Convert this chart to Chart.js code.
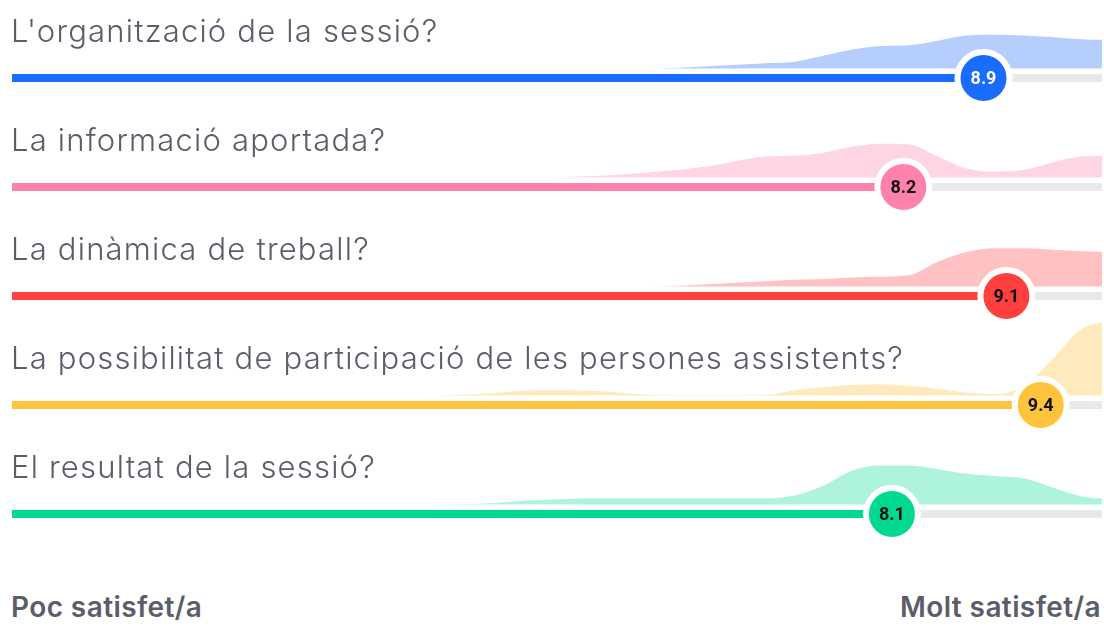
<!DOCTYPE html>
<html lang="ca">
<head>
    <meta charset="UTF-8">
    <title>Valoració de la sessió</title>
    <script src="https://cdn.jsdelivr.net/npm/chart.js"></script>
    <style>
        body {
            margin: 0;
            background: #ffffff;
            font-family: Inter, "Open Sans", sans-serif;
        }
        .board {
            position: relative;
            width: 1104px;
            height: 626px;
            overflow: hidden;
        }
        .question {
            position: absolute;
            left: 11px;
            font-size: 31px;
            line-height: 36px;
            font-weight: 300;
            letter-spacing: 1.2px;
            color: #5b5e69;
            white-space: nowrap;
            z-index: 2;
        }
        .row-chart {
            position: absolute;
            left: 0;
            width: 1104px;
            height: 130px;
        }
        .scale-label {
            position: absolute;
            top: 591px;
            font-size: 28px;
            line-height: 32px;
            font-weight: 600;
            letter-spacing: 0.4px;
            color: #5b5e69;
        }
    </style>
</head>
<body>
    <div class="board" id="board">
        <div class="scale-label" style="left:11px">Poc satisfet/a</div>
        <div class="scale-label" style="right:3px">Molt satisfet/a</div>
    </div>

    <script>
        const questions = [
            "L'organització de la sessió?",
            "La informació aportada?",
            "La dinàmica de treball?",
            "La possibilitat de participació de les persones assistents?",
            "El resultat de la sessió?"
        ];
        const scores = [8.9, 8.2, 9.1, 9.4, 8.1];
        const barColors = ["#1a6cff", "#ff82aa", "#ff403f", "#ffc43c", "#00d98f"];
        const areaColors = ["#b6cefc", "#ffd5e3", "#ffc1c1", "#ffeabd", "#aef4dc"];
        const labelColors = ["#ffffff", "#111111", "#111111", "#111111", "#111111"];

        // answer distribution
        const densityX = [4, 4.5, 5, 5.5, 6, 6.5, 7, 7.25, 7.5, 7.75, 8, 8.25, 8.5, 8.75, 9, 9.25, 9.5, 9.75, 10];
        const densityOrganitzacio = [0, 0, 0, 0, 0, 0.03, 0.07, 0.09, 0.17, 0.25, 0.3, 0.31, 0.37, 0.44, 0.45, 0.44, 0.42, 0.39, 0.38];
        const densityInformacio = [0, 0, 0, 0.02, 0.07, 0.15, 0.28, 0.29, 0.33, 0.41, 0.45, 0.44, 0.28, 0.12, 0.08, 0.1, 0.2, 0.28, 0.29];
        const densityDinamica = [0, 0, 0, 0, 0, 0.03, 0.07, 0.09, 0.1, 0.12, 0.13, 0.15, 0.33, 0.46, 0.51, 0.51, 0.49, 0.47, 0.46];
        const densityParticipacio = [0, 0.02, 0.07, 0.06, 0.01, 0.005, 0.01, 0.07, 0.11, 0.14, 0.15, 0.13, 0.09, 0.04, 0.02, 0.13, 0.48, 0.88, 1.0];
        const densityResultat = [0, 0.01, 0.06, 0.08, 0.08, 0.08, 0.08, 0.12, 0.25, 0.45, 0.52, 0.52, 0.47, 0.41, 0.38, 0.35, 0.23, 0.11, 0.07];
        const densities = [densityOrganitzacio, densityInformacio, densityDinamica, densityParticipacio, densityResultat];

        // layout
        const X_MIN = 0.415, X_MAX = 9.935;
        const TRACK_Y = -0.127;           // track sits just under the shaded area
        const Y_MIN = -0.527, Y_MAX = 1.207;
        const trackCenters = [78, 186.5, 295.5, 404.5, 513.5];

        const scoreLabel = {
            id: "scoreLabel",
            afterDatasetsDraw(chart) {
                const pt = chart.getDatasetMeta(0).data[0];
                const i = chart.options.plugins.scoreLabel.row;
                const ctx = chart.ctx;
                ctx.save();
                ctx.font = "bold 18px Roboto, Arial, sans-serif";
                ctx.fillStyle = labelColors[i];
                ctx.textAlign = "center";
                ctx.textBaseline = "middle";
                ctx.fillText(scores[i].toFixed(1), pt.x, pt.y + 1);
                ctx.restore();
            }
        };

        const board = document.getElementById("board");

        questions.forEach((q, i) => {
            let title = document.createElement("div");
            title.className = "question";
            title.style.top = (trackCenters[i] - 65) + "px";
            title.textContent = q;
            board.appendChild(title);

            let canvas = document.createElement("canvas");
            canvas.className = "row-chart";
            canvas.width = 1104;
            canvas.height = 130;
            canvas.style.top = (trackCenters[i] - 100) + "px";
            board.appendChild(canvas);

            new Chart(canvas.getContext("2d"), {
                type: "line",
                data: {
                    datasets: [
                        {
                            // score marker
                            data: [{ x: scores[i], y: TRACK_Y }],
                            showLine: false,
                            pointRadius: 26,
                            pointBackgroundColor: barColors[i],
                            pointBorderColor: "#ffffff",
                            pointBorderWidth: 6,
                            clip: false,
                            order: 0
                        },
                        {
                            data: [{ x: X_MIN, y: TRACK_Y }, { x: scores[i], y: TRACK_Y }],
                            borderColor: barColors[i],
                            borderWidth: 8,
                            pointRadius: 0,
                            clip: false,
                            order: 1
                        },
                        {
                            data: [{ x: X_MIN, y: TRACK_Y }, { x: X_MAX, y: TRACK_Y }],
                            borderColor: "#e8e9eb",
                            borderWidth: 8,
                            pointRadius: 0,
                            clip: false,
                            order: 2
                        },
                        {
                            data: densityX.map((x, k) => ({ x: x, y: densities[i][k] })),
                            borderColor: "rgba(0,0,0,0)",
                            borderWidth: 0,
                            backgroundColor: areaColors[i],
                            fill: "origin",
                            cubicInterpolationMode: "monotone",
                            pointRadius: 0,
                            order: 3
                        }
                    ]
                },
                options: {
                    responsive: false,
                    animation: false,
                    events: [],
                    layout: { autoPadding: false, padding: { left: 12, right: 2, top: 0, bottom: 0 } },
                    scales: {
                        x: { type: "linear", min: X_MIN, max: X_MAX, display: false },
                        y: { type: "linear", min: Y_MIN, max: Y_MAX, display: false }
                    },
                    plugins: {
                        legend: { display: false },
                        tooltip: { enabled: false },
                        scoreLabel: { row: i }
                    }
                },
                plugins: [scoreLabel]
            });
        });
    </script>
</body>
</html>
